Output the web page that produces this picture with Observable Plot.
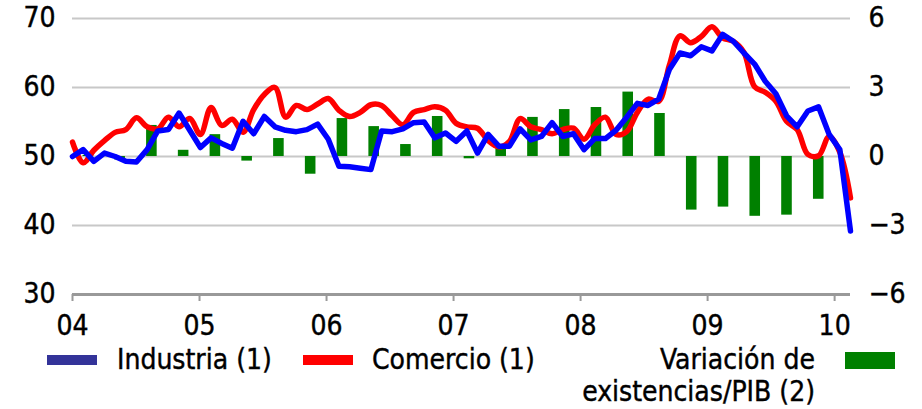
<!DOCTYPE html>
<html><head><meta charset="utf-8">
<script src="https://cdn.jsdelivr.net/npm/d3@7"></script>
<script src="https://cdn.jsdelivr.net/npm/@observablehq/plot@0.6"></script>
<style>
body{margin:0;background:#fff;font-family:"DejaVu Sans Condensed","DejaVu Sans",sans-serif;color:#000;}
#wrap{position:relative;width:922px;height:409px;overflow:hidden;}
#legend{position:relative;width:922px;height:64px;}
.lt{position:absolute;font-size:28px;line-height:32px;white-space:nowrap;-webkit-text-stroke:0.4px #000;}
.sw{position:absolute;}
svg text{stroke:#000;stroke-width:0.4px;}
</style></head><body>
<div id="wrap"><div id="chart"></div>
<div id="legend">
  <div class="sw" style="left:47px;top:10px;width:50px;height:10px;background:#333399"></div>
  <div class="lt" style="left:117px;top:-1px">Industria (1)</div>
  <div class="sw" style="left:303px;top:10px;width:50px;height:10px;background:#ff0000"></div>
  <div class="lt" style="left:372px;top:-1px">Comercio (1)</div>
  <div class="lt" style="right:107px;top:-1px;text-align:right">Variación de</div>
  <div class="lt" style="right:107px;top:31px;text-align:right">existencias/PIB (2)</div>
  <div class="sw" style="left:845px;top:7px;width:50px;height:17px;background:#008000"></div>
</div>
</div>
<script>
const months = ["2004-01","2004-02","2004-03","2004-04","2004-05","2004-06","2004-07","2004-08","2004-09","2004-10","2004-11","2004-12",
"2005-01","2005-02","2005-03","2005-04","2005-05","2005-06","2005-07","2005-08","2005-09","2005-10","2005-11","2005-12",
"2006-01","2006-02","2006-03","2006-04","2006-05","2006-06","2006-07","2006-08","2006-09","2006-10","2006-11","2006-12",
"2007-01","2007-02","2007-03","2007-04","2007-05","2007-06","2007-07","2007-08","2007-09","2007-10","2007-11","2007-12",
"2008-01","2008-02","2008-03","2008-04","2008-05","2008-06","2008-07","2008-08","2008-09","2008-10","2008-11","2008-12",
"2009-01","2009-02","2009-03","2009-04","2009-05","2009-06","2009-07","2009-08","2009-09","2009-10","2009-11","2009-12",
"2010-01","2010-02"];
const industria = [50.0,51.0,49.3,50.5,50.0,49.3,49.2,51.0,53.7,53.9,
 56.3,53.8,51.3,52.7,51.9,51.2,55.1,53.3,55.8,54.3,
 53.8,53.6,53.9,54.7,52.5,48.6,48.5,48.3,48.1,53.7,
 53.6,54.0,54.9,55.0,52.7,53.4,52.2,53.7,50.5,53.2,
 51.5,51.5,54.0,52.4,52.9,54.9,52.9,53.3,51.0,52.6,
 52.6,53.8,55.7,57.7,57.4,58.3,62.6,65.0,64.6,65.9,
 65.3,67.7,66.7,65.0,63.4,60.9,59.1,55.9,54.3,56.6,
 57.2,53.2,51.0,39.2];
const comercio = [52.1,49.1,50.9,52.3,53.5,53.9,55.6,54.3,54.0,55.7,
 54.3,55.5,53.2,57.1,54.5,55.4,53.5,56.8,59.0,60.0,
 55.7,57.4,56.8,57.6,58.4,56.7,55.8,56.4,57.5,57.4,
 55.9,54.6,56.4,56.8,57.2,56.7,54.8,54.3,54.1,52.3,
 51.4,52.2,55.5,54.3,53.9,53.3,53.9,54.1,52.5,54.6,
 55.7,53.2,53.6,56.4,58.3,58.0,63.2,67.5,66.5,67.4,
 68.8,67.2,66.7,65.1,60.1,59.3,58.0,55.1,53.9,50.3,
 50.1,52.9,50.6,44.0];
const quarters = ["2004T1","2004T2","2004T3","2004T4","2005T1","2005T2","2005T3","2005T4",
"2006T1","2006T2","2006T3","2006T4","2007T1","2007T2","2007T3","2007T4",
"2008T1","2008T2","2008T3","2008T4","2009T1","2009T2","2009T3","2009T4"];
const existencias = [0.05,-0.15,1.35,0.27,0.95,-0.2,0.78,-0.77,1.65,1.3,0.52,1.74,
 -0.1,0.45,1.7,2.04,2.13,2.8,1.87,-2.33,-2.2,-2.6,-2.55,-1.86];
const yearLabels = ["04","05","06","07","08","09","10"];
const leftTicks = [30,40,50,60,70];
const rightTicks = [-6,-3,0,3,6];

const lineStep = 73.5/73; // line category axis spans the whole plot width
const lineData = months.map((m,i)=>({m, x:i*lineStep, ind:industria[i], com:comercio[i]}));
const barData = quarters.map((q,k)=>({q, x1:3*k+1, x2:3*k+2, v:existencias[k]}));
const toLeft = v => 50 + v*10/3; // right axis (−6..6) onto left axis (30..70)
const yearIdx = yearLabels.map((_,k)=>12*k);
const fmtR = d => String(rightTicks[leftTicks.indexOf(d)]).replace("-","\u2212");

const chart = Plot.plot({
  width: 922, height: 345,
  marginLeft: 72, marginRight: 72, marginTop: 18, marginBottom: 51,
  x: {domain: [0, 73.5], axis: null},
  y: {domain: [30, 70], axis: null},
  style: {fontFamily: '"DejaVu Sans Condensed","DejaVu Sans",sans-serif', fontSize: "28px", color: "#000", background: "#fff", overflow: "visible"},
  marks: [
    Plot.gridY(leftTicks.slice(1), {stroke: "#c8c8c8", strokeOpacity: 1, strokeWidth: 2}),
    Plot.rectY(barData, {x1: "x1", x2: "x2", y1: () => 50, y2: d => toLeft(d.v), fill: "#008000"}),
    Plot.line(lineData, {x: "x", y: "com", stroke: "#ff0000", strokeWidth: 5.5, curve: "catmull-rom"}),
    Plot.line(lineData, {x: "x", y: "ind", stroke: "#0000ff", strokeWidth: 5.5}),
    Plot.ruleY([30], {stroke: "#999", strokeWidth: 3}),
    Plot.axisX(yearIdx, {tickFormat: d => yearLabels[d/12], tickSize: 7, tickPadding: 14, stroke: "#999", strokeWidth: 2, fill: "#000"}),
    Plot.axisY(leftTicks, {anchor: "left", tickSize: 0, tickPadding: 17, fill: "#000"}),
    Plot.axisY(leftTicks, {anchor: "right", tickSize: 0, tickPadding: 18, tickFormat: fmtR, fill: "#000"})
  ]
});
document.getElementById("chart").append(chart);
</script>
</body></html>
